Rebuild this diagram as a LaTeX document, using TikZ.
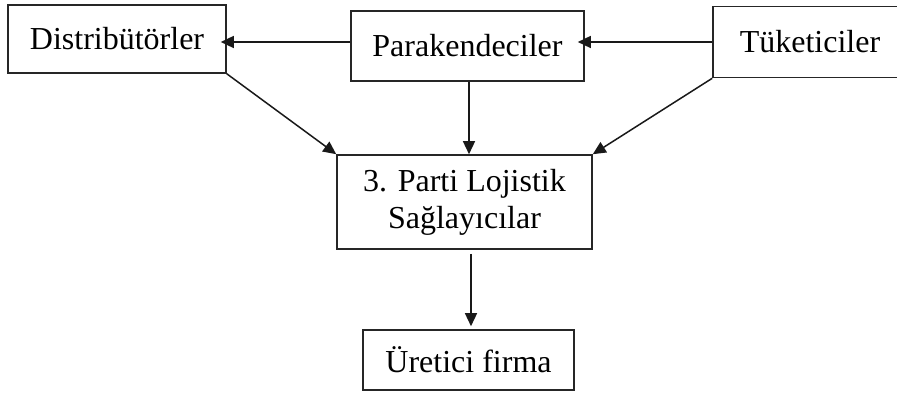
\documentclass[tikz,border=0pt]{standalone}
\usepackage{fontspec}
\setmainfont{Liberation Serif}
\usetikzlibrary{arrows.meta}

\begin{document}
\begin{tikzpicture}[x=1pt,y=-1pt,
  box/.style={draw=black!85,line width=1.6pt,rectangle,inner sep=0pt,align=center,
              font=\fontsize{32}{37}\selectfont},
  arr/.style={draw=black!90,line width=1.5pt,-{Triangle[length=13pt,width=12pt]}}]
  \useasboundingbox (0,0) rectangle (897,393);

  % boxes
  \node[box,minimum width=218pt,minimum height=68pt] (distr) at (117,39) {Distribütörler};
  \node[box,minimum width=233pt,minimum height=70pt] (parak) at (467.5,46) {Parakendeciler};
  \node[box,minimum width=194pt,minimum height=71pt] (tuk) at (810,42) {Tüketiciler};
  \node[box,minimum width=255pt,minimum height=94pt] (plp) at (464.5,202)
       {3. Parti Lojistik\\Sağlayıcılar};
  \node[box,minimum width=211pt,minimum height=60pt] (uret) at (468.5,360) {Üretici firma};

  % connectors
  \draw[arr,shorten >=-6pt] ([yshift=4pt]parak.west) -- ([yshift=4pt]parak.west -| distr.east);
  \draw[arr,shorten >=-7pt] (tuk.west) -- (tuk.west -| parak.east);
  \draw[arr] ([xshift=1.5pt]parak.south) -- ([xshift=1.5pt]parak.south |- plp.north);
  \draw[arr] (distr.south east) -- (plp.north west);
  \draw[arr] (tuk.south west) -- (plp.north east);
  \draw[arr,shorten <=4pt,shorten >=3pt] ([xshift=6.5pt]plp.south) -- ([xshift=6.5pt]plp.south |- uret.north);
\end{tikzpicture}
\end{document}
